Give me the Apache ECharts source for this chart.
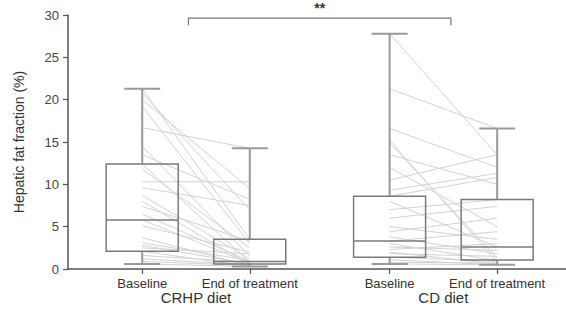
<!DOCTYPE html>
<html>
<head>
<meta charset="utf-8">
<script src="https://cdn.jsdelivr.net/npm/echarts@6/dist/echarts.min.js"></script>
<style>
  html, body { margin: 0; padding: 0; background: #fff; }
  #chart { width: 566px; height: 313px; }
</style>
</head>
<body>
<div id="chart"></div>
<script>
// categories and where they sit on the x axis (gap between the two diets)
const categories = ['Baseline', 'End of treatment', 'Baseline', 'End of treatment'];
const catPos = [0, 1, 2.3, 3.3];
const groups = ['CRHP diet', 'CD diet'];
const groupPos = [0.5, 2.8];

// box stats per category: [min, Q1, median, Q3, max]
const boxStats = [
  [0.6, 2.1, 5.8, 12.4, 21.3],
  [0.3, 0.6, 0.9, 3.5, 14.25],
  [0.6, 1.4, 3.3, 8.6, 27.8],
  [0.5, 1.05, 2.6, 8.2, 16.6]
];

// paired subjects, baseline -> end of treatment
const crhpBase = [21.3, 20.8, 20.0, 19.2, 16.7, 14.5, 13.5, 12.4, 11.8, 10.3, 9.6, 8.7, 8.0,
  7.4, 6.5, 5.8, 5.1, 3.7, 3.1, 2.8, 2.5, 2.1, 1.6, 1.2, 0.9, 0.6];
const crhpEnd = [3.5, 7.0, 9.5, 3.0, 14.25, 1.5, 8.2, 0.8, 2.5, 10.3, 7.5, 1.2, 0.5,
  3.3, 0.9, 0.7, 2.0, 0.4, 1.0, 0.6, 1.8, 0.3, 0.8, 0.5, 0.4, 0.3];
const cdBase = [27.8, 21.3, 16.6, 15.2, 14.9, 13.5, 12.0, 10.5, 9.3, 8.6, 8.0, 7.0, 6.0,
  5.0, 4.4, 3.8, 3.3, 3.0, 2.6, 2.3, 2.0, 1.8, 1.4, 1.1, 0.8, 0.6];
const cdEnd = [13.5, 16.6, 12.0, 0.8, 1.3, 10.0, 5.0, 13.5, 11.3, 10.8, 2.6, 8.2, 7.4,
  3.5, 6.0, 1.8, 4.4, 1.0, 2.2, 3.0, 0.6, 1.5, 0.9, 0.5, 0.7, 0.5];

// significance bracket between the two diets
const sigFrom = 0.43;
const sigTo = 2.87;
const sigTop = 29.64;
const sigTick = 28.8;
const sigText = '**';

const pairData = [];
crhpBase.forEach((b, i) => pairData.push([catPos[0], b, catPos[1], crhpEnd[i]]));
cdBase.forEach((b, i) => pairData.push([catPos[2], b, catPos[3], cdEnd[i]]));

const boxData = boxStats.map((s, i) => [catPos[i]].concat(s));

const font = 'Liberation Sans, Arial, sans-serif';
const chart = echarts.init(document.getElementById('chart'), null, { renderer: 'svg' });

const option = {
  animation: false,
  grid: { left: 68, right: 0, top: 15, bottom: 44 },
  xAxis: [
    {
      type: 'value',
      min: -0.69,
      max: 3.94,
      axisLine: { onZero: false, lineStyle: { color: '#555', width: 1.5 } },
      axisTick: { customValues: catPos, inside: false, length: 5, lineStyle: { color: '#555', width: 1.2 } },
      axisLabel: {
        customValues: catPos,
        formatter: v => categories[catPos.indexOf(v)],
        margin: 8,
        fontSize: 13,
        color: '#333',
        fontFamily: font
      },
      splitLine: { show: false }
    },
    {
      type: 'value',
      min: -0.69,
      max: 3.94,
      position: 'bottom',
      offset: 17,
      axisLine: { show: false, onZero: false },
      axisTick: { show: false },
      axisLabel: {
        customValues: groupPos,
        formatter: v => groups[groupPos.indexOf(v)],
        margin: 4,
        fontSize: 15,
        color: '#333',
        fontFamily: font
      },
      splitLine: { show: false }
    }
  ],
  yAxis: {
    type: 'value',
    min: 0,
    max: 30,
    interval: 5,
    name: 'Hepatic fat fraction (%)',
    nameLocation: 'middle',
    nameGap: 42,
    nameTextStyle: { fontSize: 14, color: '#333', fontFamily: font },
    axisLine: { show: true, onZero: false, lineStyle: { color: '#555', width: 1.5 } },
    axisTick: { show: true, inside: false, length: 5, lineStyle: { color: '#555', width: 1.2 } },
    axisLabel: { fontSize: 13, color: '#444', margin: 9, fontFamily: font },
    splitLine: { show: false }
  },
  series: [
    {
      name: 'pairs',
      type: 'custom',
      silent: true,
      data: pairData,
      encode: { x: [0, 2], y: [1, 3] },
      renderItem: (params, api) => {
        const p0 = api.coord([api.value(0), api.value(1)]);
        const p1 = api.coord([api.value(2), api.value(3)]);
        return {
          type: 'line',
          shape: { x1: p0[0], y1: p0[1], x2: p1[0], y2: p1[1] },
          style: { stroke: '#d2d2d2', lineWidth: 1 }
        };
      }
    },
    {
      name: 'boxes',
      type: 'custom',
      silent: true,
      data: boxData,
      encode: { x: 0, y: [1, 2, 3, 4, 5] },
      renderItem: (params, api) => {
        const x = api.value(0);
        const pMin = api.coord([x, api.value(1)]);
        const pQ1 = api.coord([x, api.value(2)]);
        const pMed = api.coord([x, api.value(3)]);
        const pQ3 = api.coord([x, api.value(4)]);
        const pMax = api.coord([x, api.value(5)]);
        const cx = pMed[0];
        const hw = 36;
        const cw = 18;
        const whisker = { stroke: '#9a9a9a', lineWidth: 2 };
        const box = { stroke: '#7a7a7a', lineWidth: 1.5, fill: 'none' };
        return {
          type: 'group',
          children: [
            { type: 'line', shape: { x1: cx, y1: pQ3[1], x2: cx, y2: pMax[1] }, style: whisker },
            { type: 'line', shape: { x1: cx - cw, y1: pMax[1], x2: cx + cw, y2: pMax[1] }, style: whisker },
            { type: 'line', shape: { x1: cx, y1: pQ1[1], x2: cx, y2: pMin[1] }, style: whisker },
            { type: 'line', shape: { x1: cx - cw, y1: pMin[1], x2: cx + cw, y2: pMin[1] }, style: whisker },
            { type: 'rect', shape: { x: cx - hw, y: pQ3[1], width: hw * 2, height: pQ1[1] - pQ3[1] }, style: box },
            { type: 'line', shape: { x1: cx - hw, y1: pMed[1], x2: cx + hw, y2: pMed[1] }, style: { stroke: '#7a7a7a', lineWidth: 1.5 } }
          ]
        };
      }
    },
    {
      name: 'significance',
      type: 'custom',
      silent: true,
      data: [[sigFrom, sigTo, sigTop, sigTick]],
      renderItem: (params, api) => {
        const a = api.coord([api.value(0), api.value(2)]);
        const b = api.coord([api.value(1), api.value(2)]);
        const aT = api.coord([api.value(0), api.value(3)]);
        const bT = api.coord([api.value(1), api.value(3)]);
        const st = { stroke: '#777', lineWidth: 1.2 };
        return {
          type: 'group',
          children: [
            { type: 'polyline', shape: { points: [aT, a, b, bT] }, style: Object.assign({ fill: 'none' }, st) },
            {
              type: 'text',
              x: (a[0] + b[0]) / 2,
              y: a[1] - 3,
              style: {
                text: sigText,
                fontSize: 14,
                fontWeight: 'bold',
                fontFamily: font,
                fill: '#333',
                align: 'center',
                verticalAlign: 'bottom'
              }
            }
          ]
        };
      }
    }
  ]
};

chart.setOption(option);
</script>
</body>
</html>
